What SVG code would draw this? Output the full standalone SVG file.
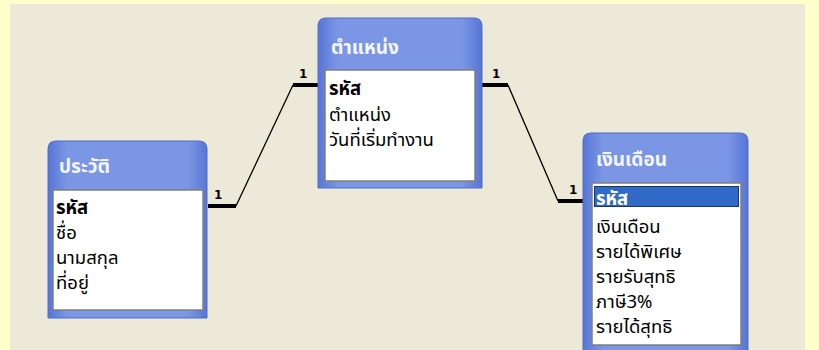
<svg xmlns="http://www.w3.org/2000/svg" width="819" height="350" viewBox="0 0 819 350">
<defs>
<linearGradient id="side" x1="0" y1="0" x2="1" y2="0">
<stop offset="0" stop-color="#5676D6"/>
<stop offset="0.12" stop-color="#7A96E4"/>
<stop offset="0.88" stop-color="#7A96E4"/>
<stop offset="1" stop-color="#5676D6"/>
</linearGradient>
</defs>
<style>
.frame{fill:url(#side);stroke:#4E6CCB;stroke-width:1}
.list{fill:#FFFFFF;stroke:#7F7F7F;stroke-width:1.5}
.title{font-family:Tahoma,"Noto Sans Thai","Noto Sans Thai UI","DejaVu Sans",sans-serif;font-size:19px;font-weight:bold;fill:#F4F6FF}
.fld{font-family:Tahoma,"Noto Sans Thai","Noto Sans Thai UI","DejaVu Sans",sans-serif;font-size:18.5px;fill:#000000}
.key{font-weight:bold}
.thin{fill:none;stroke:#000;stroke-width:1.3}
.thick{fill:none;stroke:#000;stroke-width:4}
.one{font-family:"DejaVu Sans",sans-serif;font-size:12px;font-weight:bold;fill:#000}
</style>
<rect x="0" y="0" width="819" height="350" fill="#FFFFCC"/>
<rect x="10" y="4" width="795" height="346" fill="#ECE9D8"/>

<g id="conn">
<path class="thick" d="M208,206 H236"/>
<path class="thin" d="M236,206 L293,85"/>
<path class="thick" d="M293,85 H318"/>
<text class="one" x="214" y="199">1</text>
<text class="one" x="299" y="78">1</text>
<path class="thick" d="M482,85 H508"/>
<path class="thin" d="M508,85 L558,201"/>
<path class="thick" d="M558,201 H583"/>
<text class="one" x="492" y="78">1</text>
<text class="one" x="569" y="194">1</text>
</g>

<g id="t1">
<path class="frame" d="M48,318 V149 Q48,141 56,141 H199 Q207,141 207,149 V318 Z"/>
<rect x="53" y="190" width="150" height="120" class="list"/>
<text class="title" x="59" y="173">ประวัติ</text>
<text class="fld key" x="56" y="214">รหัส</text>
<text class="fld" x="56" y="239">ชื่อ</text>
<text class="fld" x="56" y="264">นามสกุล</text>
<text class="fld" x="56" y="289">ที่อยู่</text>
</g>

<g id="t2">
<path class="frame" d="M318,188 V26 Q318,18 326,18 H474 Q482,18 482,26 V188 Z"/>
<rect x="325" y="70" width="150" height="111" class="list"/>
<text class="title" x="331" y="54">ตำแหน่ง</text>
<text class="fld key" x="329" y="95">รหัส</text>
<text class="fld" x="329" y="121">ตำแหน่ง</text>
<text class="fld" x="329" y="146">วันที่เริ่มทำงาน</text>
</g>

<g id="t3">
<path class="frame" d="M583,352 V141 Q583,133 591,133 H740 Q748,133 748,141 V352 Z"/>
<rect x="592" y="183" width="149" height="162" class="list"/>
<rect x="594" y="186" width="145" height="21" fill="#316AC5"/>
<rect x="594.5" y="186.5" width="144" height="20" fill="none" stroke="#000" stroke-width="1" stroke-dasharray="1,1"/>
<text class="title" x="596" y="166">เงินเดือน</text>
<text class="fld key" x="596" y="205" style="fill:#FFFFFF">รหัส</text>
<text class="fld" x="596" y="233">เงินเดือน</text>
<text class="fld" x="596" y="258">รายได้พิเศษ</text>
<text class="fld" x="596" y="283">รายรับสุทธิ</text>
<text class="fld" x="596" y="308">ภาษี3%</text>
<text class="fld" x="596" y="333">รายได้สุทธิ</text>
</g>
</svg>
